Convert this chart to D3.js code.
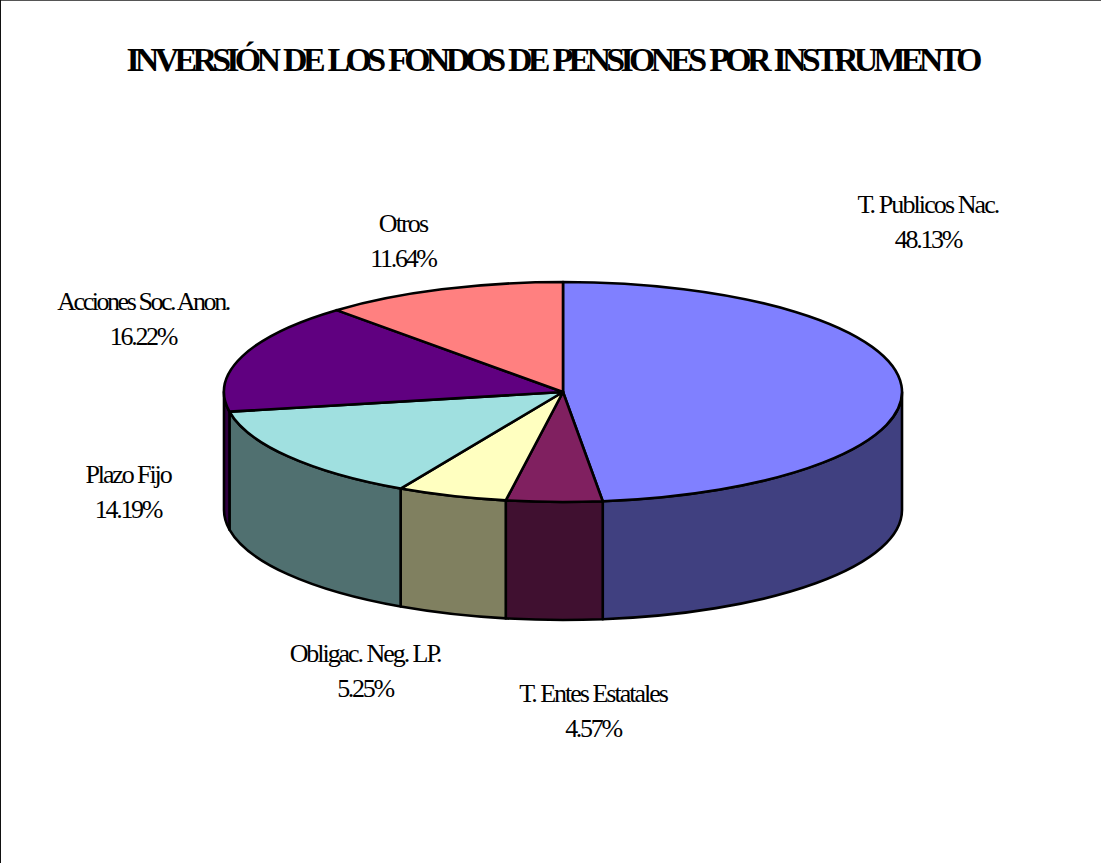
<!DOCTYPE html>
<html>
<head>
<meta charset="utf-8">
<script src="https://cdnjs.cloudflare.com/ajax/libs/d3/7.8.5/d3.min.js"></script>
<style>
  html, body { margin: 0; padding: 0; background: #fff; }
  svg { display: block; }
  text { font-family: "Liberation Serif", serif; fill: #000; }
</style>
</head>
<body>
<script>
const categories = ['T. Publicos Nac.', 'T. Entes Estatales', 'Obligac. Neg. LP.', 'Plazo Fijo', 'Acciones Soc. Anon.', 'Otros'];
const shares = [48.13, 4.57, 5.25, 14.19, 16.22, 11.64];
const topColors = ['#8080ff', '#802060', '#ffffc0', '#a0e0e0', '#600080', '#ff8080'];
const sideColors = ['#404080', '#401030', '#808060', '#507070', '#300040', '#804040'];
const titleText = 'INVERSIÓN DE LOS FONDOS DE PENSIONES POR INSTRUMENTO';

// hand placed in the original, centre x and first baseline y
const labelX = [928, 593, 365, 128, 143, 403];
const labelY = [213, 702, 662, 483, 310, 232];
const labelSpacing = [-1.9, -2, -2.05, -2.1, -2.45, -1.9];

const width = 1101, height = 863;
const cx = 563, cy = 392, rx = 339, ry = 110, depth = 118;

const svg = d3.select('body').append('svg').attr('width', width).attr('height', height);

// frame, only the top and left edges show up in the picture
svg.append('line').attr('x1', 0).attr('x2', width).attr('y1', 0.5).attr('y2', 0.5).attr('stroke', '#555');
svg.append('line').attr('x1', 0.5).attr('x2', 0.5).attr('y1', 0).attr('y2', height).attr('stroke', '#111');

svg.append('text')
  .attr('x', 552).attr('y', 71)
  .attr('text-anchor', 'middle')
  .attr('font-size', 34).attr('font-weight', 'bold')
  .attr('letter-spacing', -4.75)
  .attr('word-spacing', 3)
  .text(titleText);

const pie = d3.pie().sort(null).value((d) => d);
const slices = pie(shares);

// map unit circle onto the tilted ellipse
const xScale = d3.scaleLinear().domain([-1, 1]).range([cx - rx, cx + rx]);
const yScale = d3.scaleLinear().domain([-1, 1]).range([cy - ry, cy + ry]);
const px = (t) => xScale(Math.sin(t));
const py = (t) => yScale(-Math.cos(t));

const arcTo = (t0, t1, dy) => {
  const large = t1 - t0 > Math.PI ? 1 : 0;
  const sweep = t1 > t0 ? 1 : 0;
  return `A${rx},${ry} 0 ${large},${sweep} ${px(t1)},${py(t1) + dy}`;
};

const topPath = (d) =>
  `M${cx},${cy}L${px(d.startAngle)},${py(d.startAngle)}${arcTo(d.startAngle, d.endAngle, 0)}Z`;

// wall is only visible on the front half of the ellipse
const sidePath = (d) => {
  const t0 = Math.max(d.startAngle, Math.PI / 2);
  const t1 = Math.min(d.endAngle, 3 * Math.PI / 2);
  if (t1 <= t0) return null;
  return `M${px(t0)},${py(t0)}${arcTo(t0, t1, 0)}L${px(t1)},${py(t1) + depth}${arcTo(t1, t0, depth)}Z`;
};

svg.append('g')
  .selectAll('path')
  .data(slices)
  .join('path')
  .attr('d', sidePath)
  .attr('fill', (d, i) => sideColors[i])
  .attr('stroke', '#000').attr('stroke-width', 2.6).attr('stroke-linejoin', 'round');

svg.append('g')
  .selectAll('path')
  .data(slices)
  .join('path')
  .attr('d', topPath)
  .attr('fill', (d, i) => topColors[i])
  .attr('stroke', '#000').attr('stroke-width', 2.6).attr('stroke-linejoin', 'round');

const label = svg.append('g')
  .selectAll('text')
  .data(categories)
  .join('text')
  .attr('text-anchor', 'middle')
  .attr('font-size', 26);

label.append('tspan')
  .attr('x', (d, i) => labelX[i])
  .attr('y', (d, i) => labelY[i])
  .attr('letter-spacing', (d, i) => labelSpacing[i])
  .text((d) => d);

label.append('tspan')
  .attr('x', (d, i) => labelX[i])
  .attr('y', (d, i) => labelY[i] + 34.5)
  .attr('letter-spacing', -2.3)
  .text((d, i) => d3.format('.2f')(shares[i]) + '%');
</script>
</body>
</html>
